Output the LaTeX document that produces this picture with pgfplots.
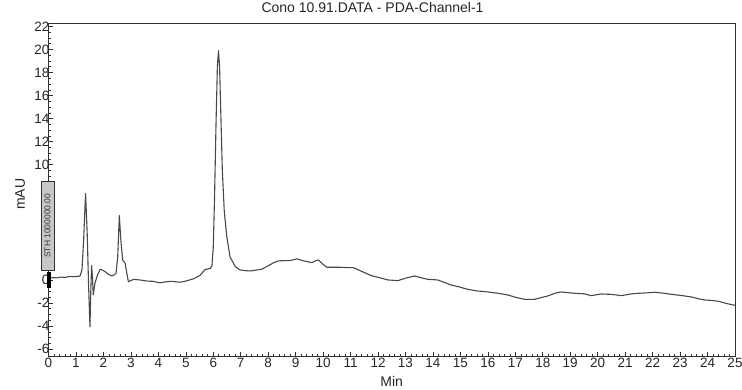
\documentclass[border=0pt]{standalone}
\usepackage{fontspec}
\setmainfont{Liberation Sans}
\usepackage{pgfplots}
\pgfplotsset{compat=1.18}
\definecolor{trace}{HTML}{484848}
\definecolor{frame}{HTML}{303030}
\begin{document}
\begin{tikzpicture}
\begin{axis}[
  name=ax,
  scale only axis,
  width=686.5bp, height=333bp,
  xmin=0, xmax=25, ymin=-6.6, ymax=22.3,
  xtick={0,1,...,25}, ytick={-6,-4,...,22},
  minor x tick num=4, minor y tick num=3,
  tick align=inside,
  xtick pos=left, ytick pos=left,
  major tick length=4bp, minor tick length=2bp,
  every tick/.style={frame, line width=0.6bp},
  axis line style={frame, line width=0.9bp},
  /pgf/number format/assume math mode=true,
  tick label style={font=\fontsize{13.5bp}{14bp}\selectfont, text=black!85},
  xticklabel style={yshift=1bp},
  yticklabel style={inner xsep=0pt, xshift=1bp},
  title={Cono 10.91.DATA - PDA-Channel-1},
  title style={at={(rel axis cs:0.472,1)}, anchor=base, yshift=5bp, inner sep=0pt, font=\fontsize{14bp}{15bp}\selectfont, text=black!85},
  xlabel={Min},
  xlabel style={at={(rel axis cs:0.5,0)}, anchor=base, yshift=-30.7bp, inner sep=0pt, font=\fontsize{14bp}{15bp}\selectfont, text=black!85},
  ylabel={mAU},
  ylabel style={at={(rel axis cs:0,0.486)}, anchor=base, yshift=23.5bp, inner sep=0pt, font=\fontsize{14bp}{15bp}\selectfont, text=black!85},
  clip=false,
]
\addplot[trace, line width=1.1bp, line join=round] coordinates {
(0,0.15) (0.15,0.2) (0.3,0.18) (0.45,0.25) (0.6,0.22) (0.75,0.3) (0.9,0.28) (1.05,0.3) (1.15,0.35)
(1.22,0.9) (1.28,3.5) (1.35,7.5) (1.41,4.0) (1.46,-0.5) (1.51,-4.06) (1.54,-1.0) (1.57,1.25) (1.60,0.3)
(1.63,-1.3) (1.69,-0.3) (1.78,0.4) (1.88,0.93) (1.97,0.85) (2.06,0.72) (2.18,0.5) (2.3,0.35) (2.4,0.45) (2.46,0.6)
(2.52,2.0) (2.58,5.6) (2.63,3.6) (2.7,1.74) (2.75,1.6) (2.79,1.45) (2.85,0.6) (2.91,-0.15) (3.0,-0.05) (3.1,0.05)
(3.33,0.0) (3.6,-0.1) (3.8,-0.12) (4.06,-0.25) (4.3,-0.15) (4.5,-0.12) (4.79,-0.2) (5.0,-0.1) (5.28,0.1)
(5.52,0.4) (5.7,0.9) (5.89,1.0) (5.95,1.2) (6.0,2.8) (6.05,7.5) (6.1,13.5) (6.15,18.5) (6.19,19.9)
(6.23,18.5) (6.28,14.0) (6.33,9.5) (6.4,6.0) (6.49,3.8) (6.61,2.0) (6.8,1.16) (6.97,0.87) (7.2,0.8)
(7.33,0.78) (7.55,0.85) (7.76,0.93) (8.0,1.22) (8.2,1.5) (8.37,1.65) (8.6,1.68) (8.8,1.68) (9.04,1.83)
(9.3,1.65) (9.59,1.5) (9.72,1.65) (9.83,1.74) (10.0,1.35) (10.14,1.1) (10.4,1.1) (10.63,1.1) (10.9,1.07) (11.1,1.07)
(11.4,0.75) (11.75,0.38) (12.05,0.2) (12.36,0.0) (12.72,-0.06) (13.0,0.15) (13.33,0.35) (13.55,0.2) (13.8,0.06)
(14.17,0.0) (14.4,-0.2) (14.65,-0.43) (14.95,-0.6) (15.26,-0.81) (15.6,-0.95) (15.99,-1.04) (16.35,-1.15)
(16.72,-1.3) (17.0,-1.5) (17.33,-1.68) (17.7,-1.68) (18.18,-1.39) (18.45,-1.15) (18.67,-1.04) (19.16,-1.16)
(19.5,-1.2) (19.76,-1.36) (20.13,-1.22) (20.5,-1.25) (20.86,-1.36) (21.2,-1.22) (21.47,-1.16) (21.8,-1.12)
(22.08,-1.07) (22.4,-1.15) (22.69,-1.25) (23.05,-1.35) (23.42,-1.48) (23.7,-1.65) (23.91,-1.74) (24.15,-1.78)
(24.4,-1.85) (24.7,-2.05) (25.0,-2.2)
};
\draw[draw=frame, fill=black!22, line width=0.6bp] (axis cs:-0.28,0.87) rectangle (axis cs:0.2,8.55);
\node[rotate=90, font=\fontsize{8.5bp}{9bp}\selectfont, text=black!80, inner sep=0pt] at (axis cs:-0.04,4.71) {STH 1000000.00};
\fill[black] (axis cs:-0.06,0.72) rectangle (axis cs:0.1,-0.72);
\end{axis}
\pgfresetboundingbox
\path ([shift={(-48.5bp,-34bp)}]ax.south west) rectangle ([shift={(7bp,23bp)}]ax.north east);
\end{tikzpicture}
\end{document}
